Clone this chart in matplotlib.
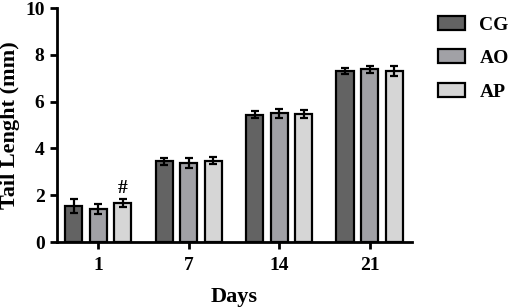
import matplotlib.pyplot as plt
import numpy as np

days = ['1', '7', '14', '21']
groups = ['CG', 'AO', 'AP']
cg = [1.55, 3.45, 5.45, 7.32]
ao = [1.42, 3.37, 5.5, 7.38]
ap = [1.67, 3.47, 5.46, 7.32]
cg_err = [0.3, 0.15, 0.17, 0.13]
ao_err = [0.2, 0.22, 0.2, 0.15]
ap_err = [0.15, 0.15, 0.17, 0.22]
colors = ['#636363', '#a1a1a6', '#d6d6d6']

plt.rcParams['font.family'] = ['Liberation Serif', 'DejaVu Serif']
plt.rcParams['font.weight'] = 'bold'

fig = plt.figure(figsize=(5.1, 3.08), dpi=100)
ax = fig.add_axes([0.112, 0.214, 0.696, 0.76])

x = np.arange(len(days))
w = 0.19
off = 0.272
for i, (vals, errs) in enumerate(zip([cg, ao, ap], [cg_err, ao_err, ap_err])):
    ax.bar(x + (i - 1) * off, vals, w, yerr=errs, color=colors[i],
           edgecolor='black', linewidth=1.6, label=groups[i],
           error_kw=dict(ecolor='black', elinewidth=1.6, capsize=3, capthick=1.6))

ax.text(x[0] + off, ap[0] + ap_err[0] + 0.12, '#', ha='center', va='bottom',
        fontsize=14, fontweight='bold')

ax.set_xlim(-0.455, 3.47)
ax.set_ylim(0, 10)
ax.set_yticks(range(0, 11, 2))
ax.set_xticks(x)
ax.set_xticklabels(days)
ax.spines['top'].set_visible(False)
ax.spines['right'].set_visible(False)
for s in ['left', 'bottom']:
    ax.spines[s].set_linewidth(2)
ax.tick_params(width=2, length=5, labelsize=14, pad=4)
ax.tick_params(axis='x', pad=6)
for lab in ax.get_xticklabels() + ax.get_yticklabels():
    lab.set_fontweight('bold')

ax.set_xlabel('Days', fontsize=16, fontweight='bold', labelpad=9)
ax.set_ylabel('Tail Lenght (mm)', fontsize=16, fontweight='bold', labelpad=4)

leg = ax.legend(loc='upper left', bbox_to_anchor=(1.05, 1.0), frameon=False,
                fontsize=14, handlelength=1.4, handleheight=0.75,
                labelspacing=0.8, handletextpad=0.75, borderaxespad=0)
for t in leg.get_texts():
    t.set_fontweight('bold')

fig.savefig('out.png', dpi=100)
